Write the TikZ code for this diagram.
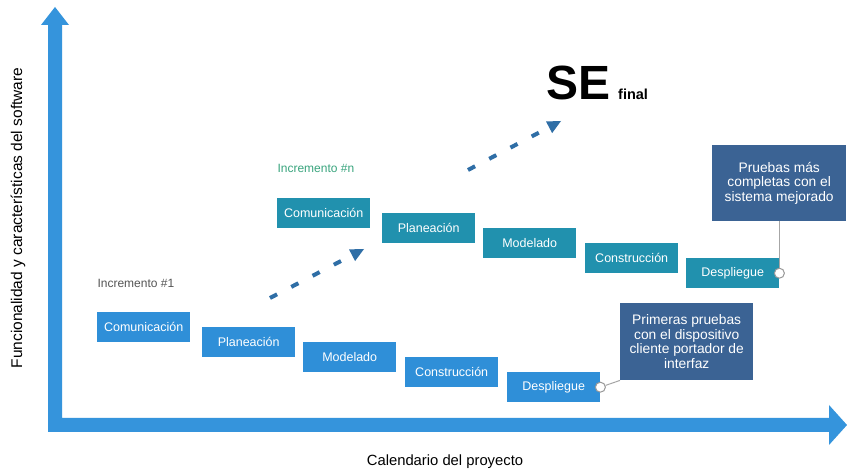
\documentclass[tikz,border=0pt]{standalone}
\usepackage{fontspec}
\setmainfont{Liberation Sans}
\usetikzlibrary{calc}
\definecolor{axisblue}{HTML}{3594DC}
\definecolor{boxone}{HTML}{2F8FD8}
\definecolor{boxn}{HTML}{2191AE}
\definecolor{callout}{HTML}{3B6394}
\definecolor{dashblue}{HTML}{2F6EA6}
\definecolor{incgreen}{HTML}{3AA57E}
\definecolor{labelgray}{HTML}{555555}
\tikzset{
  phase/.style={draw=none, minimum width=93pt, minimum height=30pt, inner sep=0pt,
    text=white, font=\fontsize{12.5}{14}\selectfont, anchor=north west},
  phaseone/.style={phase, fill=boxone},
  phasen/.style={phase, fill=boxn},
  callbox/.style={fill=callout, text=white, align=center, inner sep=0pt,
    font=\fontsize{13.8}{14.6}\selectfont, anchor=north west},
  dot/.style={circle, draw=gray!80, fill=white, inner sep=0pt, minimum size=10pt, line width=1pt},
  link/.style={draw=gray!70, line width=1pt},
  dashline/.style={draw=dashblue, line width=4pt, dash pattern=on 8pt off 16pt},
  headfill/.style={fill=dashblue},
  inclabel/.style={font=\fontsize{12}{14}\selectfont, anchor=west}
}
\begin{document}
\begin{tikzpicture}[x=1pt,y=-1pt]
\useasboundingbox (0,0) rectangle (847,470);
\fill[white] (0,0) rectangle (847,470);
% axes
\fill[axisblue] (48,25) -- (41,25) -- (55,7) -- (69,25) -- (62,25) -- (62,418) -- (829,418)
  -- (829,405) -- (847,425) -- (829,445) -- (829,432) -- (48,432) -- cycle;
\node[font=\fontsize{15.5}{18}\selectfont, rotate=90] (ylab) at (18,218) {Funcionalidad y características del software};
\node[font=\fontsize{14.8}{18}\selectfont] (xlab) at (445,462) {Calendario del proyecto};
% increment 1
\node[inclabel, text=labelgray] (inc1) at (94,283) {Incremento \#1};
\node[phaseone] (c1) at (97,312) {Comunicación};
\node[phaseone] (p1) at (202,327) {Planeación};
\node[phaseone] (m1) at (303,342) {Modelado};
\node[phaseone] (k1) at (405,357) {Construcción};
\node[phaseone] (d1) at (507,372) {Despliegue};
% increment n
\node[inclabel, text=incgreen] (incn) at (274,168) {Incremento \#n};
\node[phasen] (cn) at (277,198) {Comunicación};
\node[phasen] (pn) at (382,213) {Planeación};
\node[phasen] (mn) at (483,228) {Modelado};
\node[phasen] (kn) at (585,243) {Construcción};
\node[phasen] (dn) at (686,258) {Despliegue};
% callouts
\node[callbox, minimum width=133pt, minimum height=77pt] (cb1) at (620,303)
  {Primeras pruebas\\con el dispositivo\\cliente portador de\\interfaz};
\node[callbox, minimum width=134pt, minimum height=76pt] (cb2) at (712,145)
  {Pruebas más\\completas con el\\sistema mejorado};
\node[dot] (o1) at (d1.east) {};
\node[dot] (o2) at (dn.east) {};
\draw[link] (o1) -- (cb1.south west);
\draw[link] (o2) -- (o2 |- cb2.south);
% dashed arrows
\coordinate (a1s) at (270,298);
\coordinate (a1e) at (364,249);
\coordinate (a2s) at (468,170);
\coordinate (a2e) at (561,121);
\coordinate (a1b) at ($(a1e)!12pt!(a1s)$);
\coordinate (a2b) at ($(a2e)!12pt!(a2s)$);
\draw[dashline] (a1s) -- (a1b);
\draw[dashline] (a2s) -- (a2b);
\fill[headfill] (a1e) -- ($(a1e)!15pt!26:(a1s)$) -- ($(a1e)!15pt!-26:(a1s)$) -- cycle;
\fill[headfill] (a2e) -- ($(a2e)!15pt!26:(a2s)$) -- ($(a2e)!15pt!-26:(a2s)$) -- cycle;
% SE final
\node[font=\fontsize{48}{50}\bfseries\selectfont, anchor=base west, inner sep=0pt] (se) at (546,100) {SE};
\node[font=\fontsize{14.5}{16}\bfseries\selectfont, anchor=base west, inner sep=0pt] (fin) at (618,100) {final};
\end{tikzpicture}
\end{document}
